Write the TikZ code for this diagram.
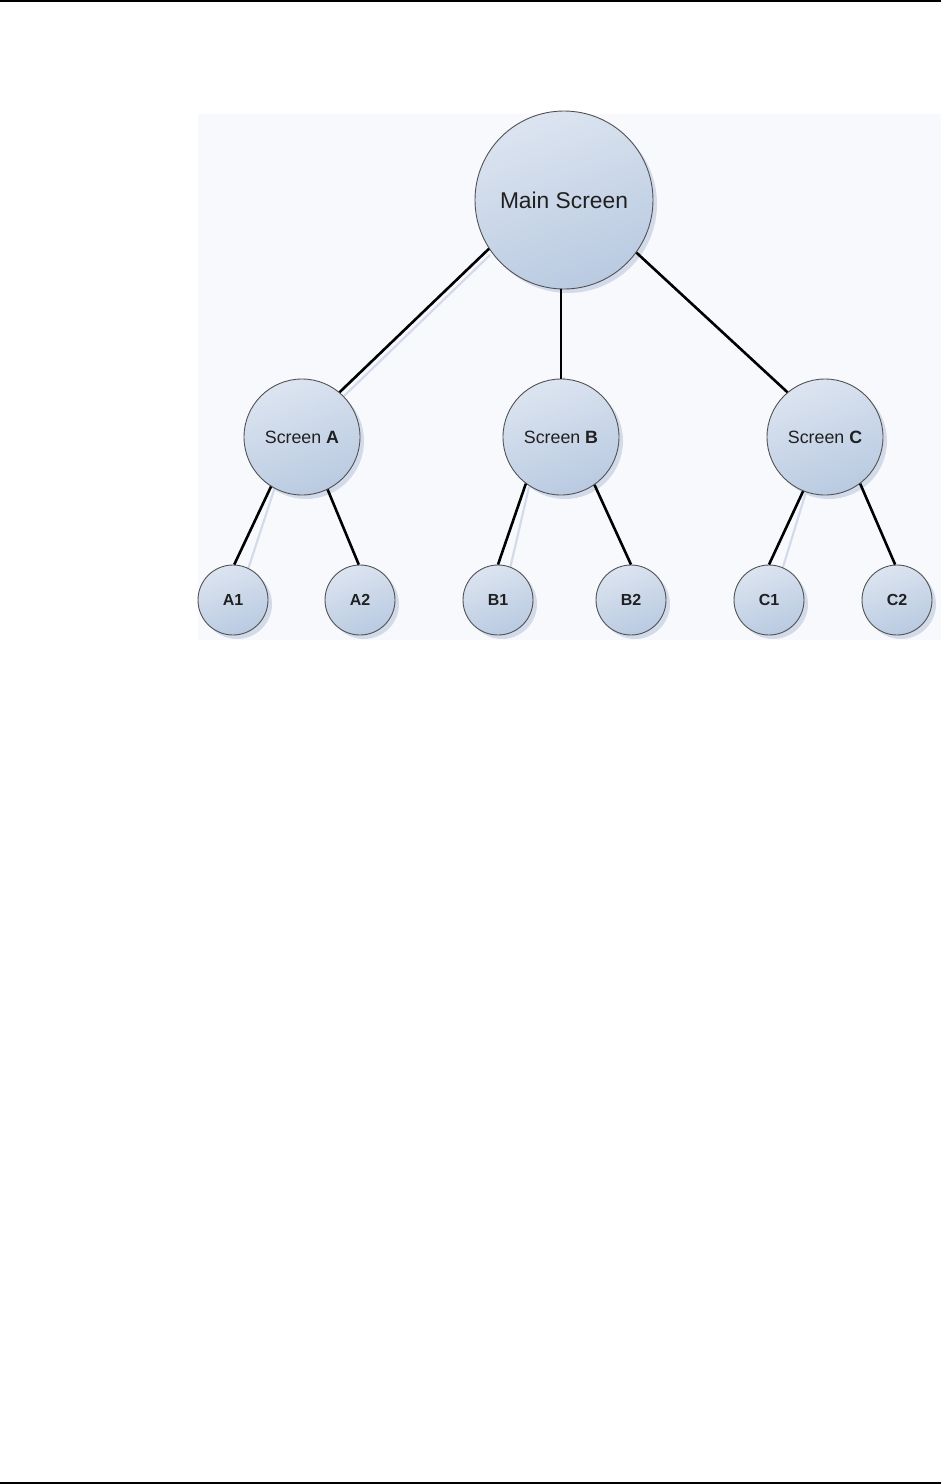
\documentclass[tikz,border=0pt]{standalone}
\usepackage{fontspec}
\setmainfont{Liberation Sans}
\usetikzlibrary{calc}
\begin{document}
\begin{tikzpicture}[x=1pt,y=-1pt,
  every node/.style={inner sep=0pt},
  scr/.style={circle, draw=black!68, line width=0.9pt, top color=fillTop, bottom color=fillBot, shading angle=20,
     minimum size=#1, text=textCol},
  shadowc/.style={circle, fill=shadowCol, minimum size=#1},
  conn/.style={line width=2.6pt, black},
  connsh/.style={line width=2.2pt, shadowCol},
]
\definecolor{fillTop}{HTML}{DCE4F0}
\definecolor{fillBot}{HTML}{B9CAE1}
\definecolor{shadowCol}{HTML}{D3DBEA}
\definecolor{panel}{HTML}{F8F9FD}
\definecolor{textCol}{HTML}{202020}
\useasboundingbox (0,0) rectangle (941,1484);
\fill[white] (0,0) rectangle (941,1484);
\fill[black] (0,0) rectangle (941,2.2);
\fill[black] (0,1481.8) rectangle (941,1484);
\fill[panel] (198,114) rectangle (941,640);

% shadows
\foreach \x/\y/\s in {564/200/178, 302/437/116, 561/437/116, 825/437/116,
  233/600/70, 360/600/70, 498/600/70, 631/600/70, 769/600/70, 897/600/70}{
  \node[shadowc=\s] at (\x+4,\y+4) {};
}

% node coordinates
\coordinate (pm) at (564,200);
\coordinate (pa) at (302,437);
\coordinate (pb) at (561,437);
\coordinate (pc) at (825,437);
\coordinate (sa1) at (237,603);
\coordinate (sb1) at (502,603);
\coordinate (sc1) at (772,603);

% connector shadows
\draw[connsh] ($(pm)+(-74,55)$) -- ($(pa)+(42,-41)$);
\draw[connsh] ($(pb)+(3,-60)$) -- ($(pb)+(3,0)$);
\draw[connsh] ($(pa)+(-27,50)$) -- (sa1);
\draw[connsh] ($(pb)+(-32,50)$) -- (sb1);
\draw[connsh] ($(pc)+(-19,55)$) -- (sc1);

% nodes
\node[scr=178, font=\fontsize{22.8}{24}\selectfont] (main) at (pm) {Main Screen};
\node[scr=116, font=\fontsize{17.8}{20}\selectfont] (A) at (pa) {Screen \textbf{A}};
\node[scr=116, font=\fontsize{17.8}{20}\selectfont] (B) at (pb) {Screen \textbf{B}};
\node[scr=116, font=\fontsize{17.8}{20}\selectfont] (C) at (pc) {Screen \textbf{C}};
\node[scr=70, font=\bfseries\fontsize{16}{18}\selectfont] (A1) at (233,600) {A1};
\node[scr=70, font=\bfseries\fontsize{16}{18}\selectfont] (A2) at (360,600) {A2};
\node[scr=70, font=\bfseries\fontsize{16}{18}\selectfont] (B1) at (498,600) {B1};
\node[scr=70, font=\bfseries\fontsize{16}{18}\selectfont] (B2) at (631,600) {B2};
\node[scr=70, font=\bfseries\fontsize{16}{18}\selectfont] (C1) at (769,600) {C1};
\node[scr=70, font=\bfseries\fontsize{16}{18}\selectfont] (C2) at (897,600) {C2};

% connectors
\draw[conn] (main.213) -- (A.50);
\draw[conn] (B.north |- main.south) -- (B.north);
\draw[conn] (main.324) -- (C.130);
\draw[conn] (A.238) -- (A1.88);
\draw[conn] (A.296) -- (A2.92);
\draw[conn] (B.233) -- (B1.90);
\draw[conn] (B.305) -- (B2.90);
\draw[conn] (C.248) -- (C1.90);
\draw[conn] (C.307) -- (C2.93);
\end{tikzpicture}
\end{document}
